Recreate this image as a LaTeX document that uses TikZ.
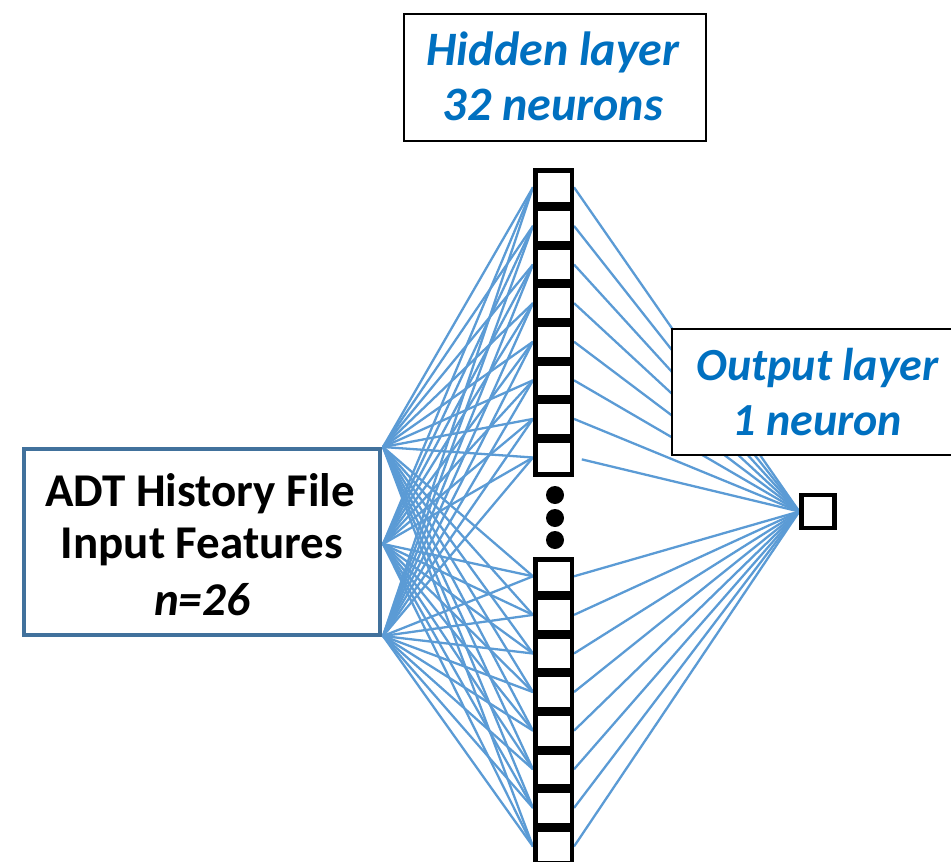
\documentclass[tikz,border=0pt]{standalone}
\usepackage{fontspec}
\setmainfont{Carlito}
\usetikzlibrary{backgrounds}
\definecolor{linkblue}{HTML}{5B9BD5}
\definecolor{txtblue}{HTML}{0070C0}
\definecolor{inborder}{HTML}{41719C}
\begin{document}
\begin{tikzpicture}[x=1pt,y=-1pt,
  cell/.style={draw=black,fill=white,line width=4.5pt,minimum width=36.5pt,minimum height=34.1pt,inner sep=0pt},
  outcell/.style={draw=black,fill=white,line width=4.5pt,minimum width=33pt,minimum height=33pt,inner sep=0pt},
  link/.style={draw=linkblue,line width=2.3pt},
  dotnode/.style={circle,fill=black,minimum size=18pt,inner sep=0pt},
  lbl/.style={anchor=base,inner sep=0pt,font=\fontsize{47}{54}\selectfont\bfseries},
  bluelbl/.style={anchor=base,inner sep=0pt,text=txtblue,font=\fontsize{46}{54}\selectfont\bfseries\itshape},
  labelbox/.style={draw=black,line width=2pt,fill=white,inner sep=0pt}]
\clip (0,0) rectangle (951,862);
% hidden layer cells
\foreach \i in {0,...,7} {\node[cell] (u\i) at (553.5,{187.3+38.6*\i}) {};}
\foreach \i in {0,...,7} {\node[cell] (d\i) at (553.5,{576.3+38.6*\i}) {};}
% ellipsis dots
\node[dotnode] (k1) at (555,495) {};
\node[dotnode] (k2) at (555,518) {};
\node[dotnode] (k3) at (555,540) {};
% output neuron
\node[outcell] (out) at (818,511.5) {};
% input box
\node[draw=inborder,line width=4pt,fill=white,minimum width=356pt,minimum height=186pt,inner sep=0pt] (inp) at (202,542) {};
\coordinate (a1) at (383,447);
\coordinate (a2) at (383,544);
\coordinate (a3) at (383,636);
% connections
\begin{pgfonlayer}{background}
\foreach \s in {a1,a2,a3} {
  \foreach \i in {0,...,7} {
    \draw[link] (\s) -- (u\i.west);
    \draw[link] (\s) -- (d\i.west);
  }
}
\foreach \i in {0,...,6} {
  \draw[link] (u\i.east) -- (out.west);
}
\draw[link,shorten <=8pt] (u7.east) -- (out.west);
\foreach \i in {0,...,7} {
  \draw[link] (d\i.east) -- (out.west);
}
\end{pgfonlayer}
% input text
\node[lbl] (t1) at (200,506) {ADT History File};
\node[lbl] (t2) at (202,558) {Input Features};
\node[lbl] (t3) at (202,615) {\itshape n=26};
% hidden label
\node[labelbox,minimum width=302pt,minimum height=127pt] (hbox) at (555,77.5) {};
\node[bluelbl,font=\fontsize{48}{54}\selectfont\bfseries\itshape] (h1) at (553,65) {Hidden layer};
\node[bluelbl,font=\fontsize{48}{54}\selectfont\bfseries\itshape] (h2) at (553,120) {32 neurons};
% output label
\node[labelbox,minimum width=300pt,minimum height=126pt] (obox) at (822,392) {};
\node[bluelbl] (o1) at (817.5,380) {Output layer};
\node[bluelbl] (o2) at (817.5,435) {1 neuron};
\end{tikzpicture}
\end{document}
